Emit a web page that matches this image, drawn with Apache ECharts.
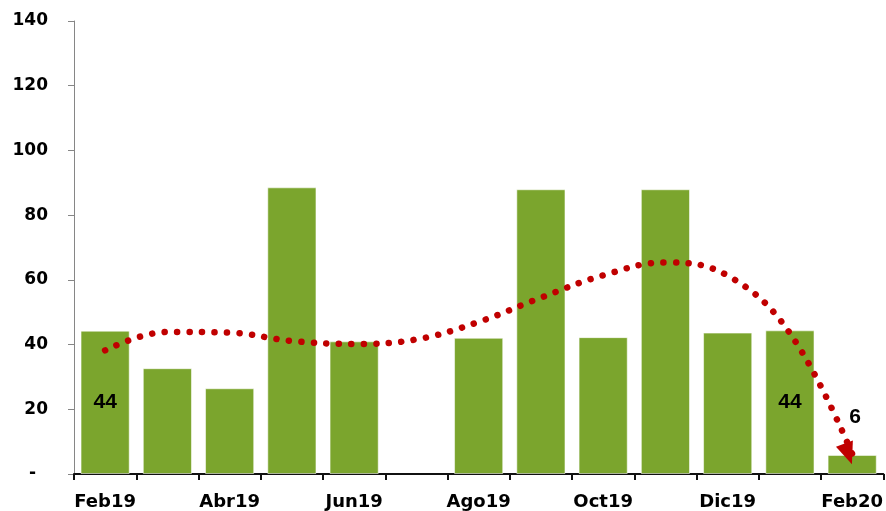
<!DOCTYPE html>
<html>
<head>
<meta charset="utf-8">
<script src="https://cdn.jsdelivr.net/npm/echarts@6/dist/echarts.min.js"></script>
<style>
  html, body { margin: 0; padding: 0; background: #fff; }
  #chart { width: 886px; height: 511px; }
</style>
</head>
<body>
<div id="chart"></div>
<script>
// datos
const categories = ['Feb19', 'Mar19', 'Abr19', 'May19', 'Jun19', 'Jul19', 'Ago19',
  'Sep19', 'Oct19', 'Nov19', 'Dic19', 'Ene20', 'Feb20'];
const barValues = [44.3, 32.7, 26.5, 88.6, 41.0, null, 42.1, 88.0, 42.3, 88.0, 43.7, 44.4, 5.9];
const trendValues = [38.2, 43.9, 43.7, 41.1, 40.2, 41.6, 47.0, 54.5, 61.4, 65.4, 61.3, 43.5, 6.2];
const labelIdx = [0, 11, 12];
const yTicks = [0, 20, 40, 60, 80, 100, 120, 140];

const chart = echarts.init(document.getElementById('chart'));

const barData = barValues.map((v, i) => {
  if (labelIdx.indexOf(i) < 0) return v;
  const small = v < 10;
  return {
    value: v,
    label: {
      show: true,
      position: small ? 'top' : 'inside',
      distance: small ? 27 : 5,
      offset: small ? [3, 0] : [0, 0],
      formatter: p => Math.round(p.value),
      color: '#000',
      fontFamily: 'Liberation Sans',
      fontWeight: 'bold',
      fontSize: 21
    }
  };
});

const trendData = trendValues.map((v, i) => {
  if (i < trendValues.length - 1) return v;
  return {
    value: v,
    symbol: 'triangle',
    symbolSize: [18, 22],
    symbolRotate: 200,
    symbolOffset: [-4, 0],
    itemStyle: { color: '#c00000' }
  };
});

const option = {
  animation: false,
  grid: { left: 74, right: 2, top: 21, bottom: 36 },
  xAxis: {
    type: 'category',
    data: categories,
    axisLine: { lineStyle: { color: '#111', width: 2 } },
    axisTick: { show: true, interval: 0, length: 6, lineStyle: { color: '#111', width: 2 } },
    axisLabel: {
      interval: 1,
      margin: 19,
      color: '#000',
      fontFamily: 'DejaVu Sans',
      fontWeight: 'bold',
      fontSize: 18
    }
  },
  yAxis: {
    type: 'value',
    min: yTicks[0],
    max: yTicks[yTicks.length - 1],
    interval: 20,
    splitLine: { show: false },
    axisLine: { show: true, lineStyle: { color: '#868686', width: 1 } },
    axisTick: { show: true, length: 6, lineStyle: { color: '#868686' } },
    axisLabel: {
      margin: 26,
      color: '#000',
      fontFamily: 'DejaVu Sans',
      fontWeight: 'bold',
      fontSize: 17,
      formatter: v => (v === 0 ? '-\u2007' : String(v))
    }
  },
  series: [
    {
      type: 'bar',
      data: barData,
      barCategoryGap: '21%',
      itemStyle: {
        color: '#7ba52d',
        borderColor: 'rgba(255,255,255,0.55)',
        borderWidth: 1
      },
      z: 2
    },
    {
      type: 'line',
      data: trendData,
      smooth: 0.4,
      symbol: 'none',
      lineStyle: {
        color: '#c00000',
        width: 6.5,
        type: [0.1, 12.4],
        cap: 'round'
      },
      z: 5
    }
  ]
};

chart.setOption(option);
</script>
</body>
</html>
